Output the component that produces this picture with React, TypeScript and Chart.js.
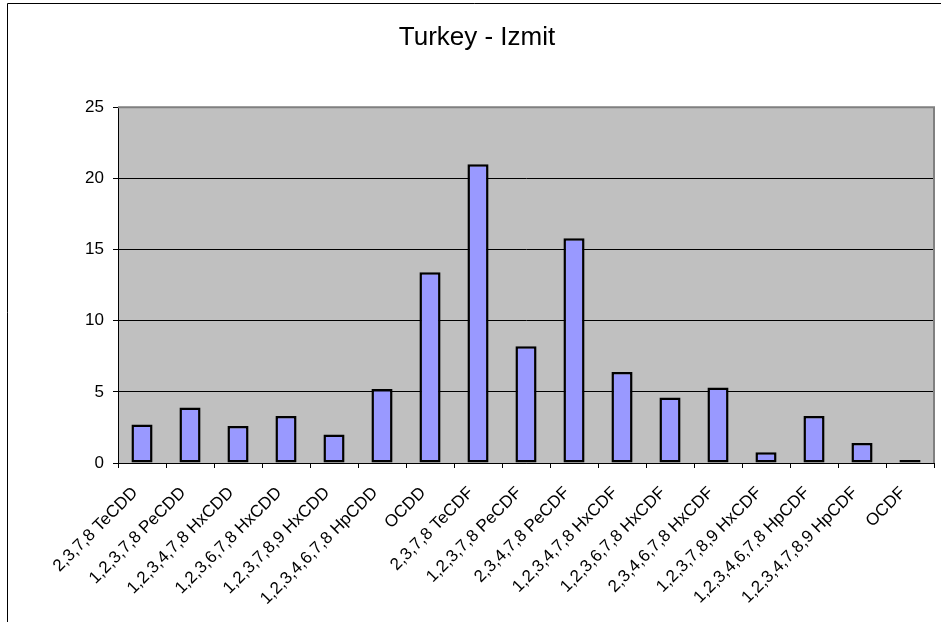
import React, { useEffect, useRef } from "react";
import { Chart, registerables } from "chart.js";

Chart.register(...registerables);

const categories: string[] = [
  "2,3,7,8 TeCDD",
  "1,2,3,7,8 PeCDD",
  "1,2,3,4,7,8 HxCDD",
  "1,2,3,6,7,8 HxCDD",
  "1,2,3,7,8,9 HxCDD",
  "1,2,3,4,6,7,8 HpCDD",
  "OCDD",
  "2,3,7,8 TeCDF",
  "1,2,3,7,8 PeCDF",
  "2,3,4,7,8 PeCDF",
  "1,2,3,4,7,8 HxCDF",
  "1,2,3,6,7,8 HxCDF",
  "2,3,4,6,7,8 HxCDF",
  "1,2,3,7,8,9 HxCDF",
  "1,2,3,4,6,7,8 HpCDF",
  "1,2,3,4,7,8,9 HpCDF",
  "OCDF",
];

const values: number[] = [2.7, 3.9, 2.6, 3.3, 2.0, 5.2, 13.4, 21.0, 8.2, 15.8, 6.4, 4.6, 5.3, 0.75, 3.3, 1.4, 0.1];

const titleText = "Turkey - Izmit";
const yMin = 0;
const yMax = 25;
const yStep = 5;

const FONT = "'Liberation Sans', Arial, Helvetica, sans-serif";

const plotDecor = {
  id: "plotDecor",
  beforeDraw(chart: any) {
    const { ctx, chartArea } = chart;
    ctx.save();
    ctx.fillStyle = "#ffffff";
    ctx.fillRect(0, 0, chart.width, chart.height);
    ctx.fillStyle = "#C0C0C0";
    ctx.fillRect(chartArea.left, chartArea.top, chartArea.right - chartArea.left, chartArea.bottom - chartArea.top);
    // outer frame
    ctx.strokeStyle = "#000000";
    ctx.lineWidth = 1;
    ctx.beginPath();
    ctx.moveTo(7.5, chart.height);
    ctx.lineTo(7.5, 3.5);
    ctx.lineTo(chart.width, 3.5);
    ctx.stroke();
    ctx.restore();
  },
  afterDatasetsDraw(chart: any) {
    const { ctx, chartArea } = chart;
    ctx.save();
    ctx.strokeStyle = "#808080";
    ctx.lineWidth = 2;
    ctx.beginPath();
    ctx.moveTo(chartArea.left, chartArea.top);
    ctx.lineTo(chartArea.right, chartArea.top);
    ctx.lineTo(chartArea.right, chartArea.bottom);
    ctx.stroke();
    ctx.restore();
  },
};

export default function App() {
  const canvasRef = useRef<HTMLCanvasElement | null>(null);

  useEffect(() => {
    if (!canvasRef.current) return;
    const chart = new Chart(canvasRef.current, {
      type: "bar",
      data: {
        labels: categories,
        datasets: [
          {
            data: values,
            backgroundColor: "#9999FF",
            borderColor: "#000000",
            borderWidth: 2.5,
            borderSkipped: false,
            minBarLength: 3,
            barPercentage: 0.44,
            categoryPercentage: 1,
          },
        ],
      },
      options: {
        animation: false,
        responsive: false,
        devicePixelRatio: 1,
        layout: { padding: { left: 20, right: 7, top: 0, bottom: 0 } },
        plugins: {
          legend: { display: false },
          tooltip: { enabled: false },
          title: {
            display: true,
            text: titleText,
            color: "#000000",
            font: { family: FONT, size: 26, weight: "normal" },
            padding: { top: 22, bottom: 54 },
          },
        },
        scales: {
          x: {
            offset: true,
            grid: {
              offset: true,
              drawOnChartArea: false,
              drawTicks: true,
              tickLength: 5,
              tickColor: "#000000",
              color: "#000000",
            },
            border: { display: true, color: "#000000", width: 1 },
            ticks: {
              color: "#000000",
              font: { family: FONT, size: 17 },
              minRotation: 45,
              maxRotation: 45,
              autoSkip: false,
              padding: 15,
              labelOffset: -7,
            },
            afterFit(scale: any) {
              scale.height = 159;
            },
          },
          y: {
            min: yMin,
            max: yMax,
            grid: {
              drawOnChartArea: true,
              drawTicks: true,
              tickLength: 5,
              tickColor: "#000000",
              color: (c: any) => (c.tick && c.tick.value === yMax ? "#808080" : "#000000"),
              lineWidth: 1,
            },
            border: { display: true, color: "#000000", width: 1 },
            ticks: {
              stepSize: yStep,
              color: "#000000",
              font: { family: FONT, size: 17 },
              padding: 9,
            },
            afterFit(scale: any) {
              scale.width = 98;
            },
          },
        },
      },
      plugins: [plotDecor],
    });
    return () => chart.destroy();
  }, []);

  return (
    <div style={{ position: "absolute", left: 0, top: 0, width: 941, height: 622 }}>
      <canvas ref={canvasRef} width={941} height={622} style={{ display: "block" }} />
    </div>
  );
}
